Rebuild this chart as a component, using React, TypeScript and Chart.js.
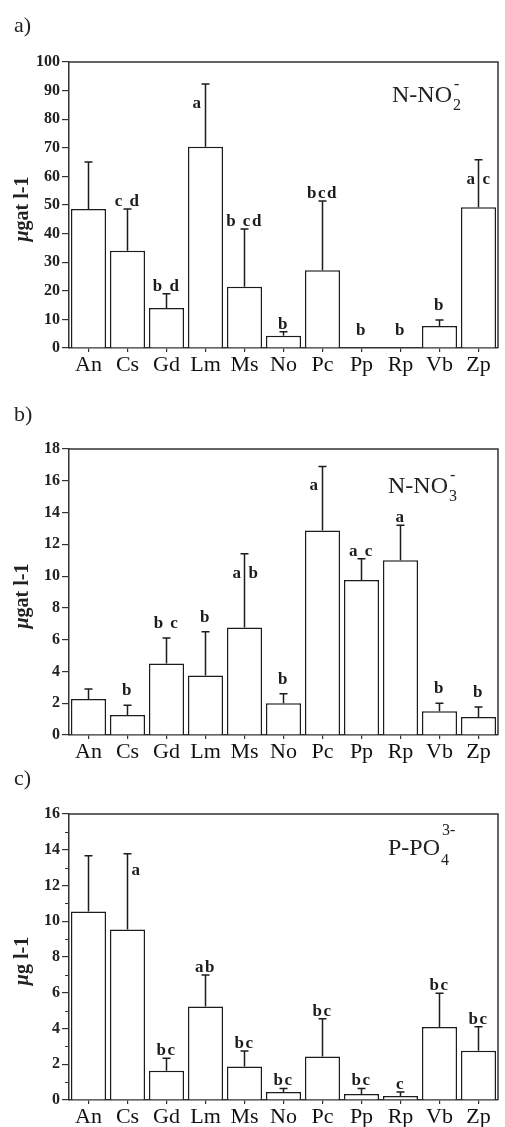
import React, { useEffect, useRef } from "react";
import { Chart, registerables } from "chart.js";

Chart.register(...registerables);

const categories = ["An", "Cs", "Gd", "Lm", "Ms", "No", "Pc", "Pp", "Rp", "Vb", "Zp"];

// a) N-NO2
const no2Means = [48.6, 34, 14, 70.4, 21.4, 4.3, 27.2, 0, 0, 7.7, 49.2];
const no2Upper = [65, 48.6, 19, 92.3, 41.6, 5.7, 51.4, 0, 0, 9.8, 65.8];
const no2Letters = ["", "c d", "b d", "a", "b cd", "b", "bcd", "b", "b", "b", "a c"];
const no2Ticks = [0, 10, 20, 30, 40, 50, 60, 70, 80, 90, 100];

// b) N-NO3
const no3Means = [2.27, 1.26, 4.5, 3.74, 6.76, 2.0, 12.87, 9.75, 11.0, 1.5, 1.13];
const no3Upper = [2.9, 1.87, 6.1, 6.5, 11.4, 2.6, 16.9, 11.1, 13.2, 2.0, 1.76];
const no3Letters = ["", "b", "b c", "b", "a b", "b", "a", "a c", "a", "b", "b"];
const no3Ticks = [0, 2, 4, 6, 8, 10, 12, 14, 16, 18];

// c) P-PO4
const po4Means = [10.55, 9.54, 1.64, 5.23, 1.88, 0.45, 2.44, 0.34, 0.22, 4.08, 2.76];
const po4Upper = [13.66, 13.77, 2.33, 7.0, 2.74, 0.65, 4.55, 0.65, 0.45, 5.97, 4.1];
const po4Letters = ["", "a", "bc", "ab", "bc", "bc", "bc", "bc", "c", "bc", "bc"];
const po4Ticks = [0, 2, 4, 6, 8, 10, 12, 14, 16];

// letter placement codes: t = just above cap, T = higher above cap, l = left of bar, r = right of bar, s = split around bar
const no2Place = ["t", "t", "t", "l", "t", "t", "t", "T", "T", "T", "s"];
const no3Place = ["t", "T", "T", "T", "s", "T", "l", "t", "t", "T", "T"];
const po4Place = ["t", "r", "t", "t", "t", "t", "t", "t", "t", "t", "t"];

const SERIF = "'Liberation Serif', 'DejaVu Serif', serif";
const INK = "#1c1c1c";

type Panel = {
  tag: string;
  means: number[];
  upper: number[];
  letters: string[];
  place: string[];
  ticks: number[];
  minor: boolean;
  unit: string;
  ionMain: string;
  ionSub: string;
  ionSup: string;
  ionX: number;
  ionBase: number;
  subDy: number;
  supDy: number;
  top: number;
  height: number;
  padTop: number;
  xAxisH: number;
  tagBase: number;
};

const panels: Panel[] = [
  {
    tag: "a)", means: no2Means, upper: no2Upper, letters: no2Letters, place: no2Place, ticks: no2Ticks,
    minor: false, unit: "gat l-1", ionMain: "N-NO", ionSub: "2", ionSup: "-", ionX: 392, ionBase: 102,
    subDy: 8, supDy: -13, top: 0, height: 380, padTop: 62, xAxisH: 32, tagBase: 32,
  },
  {
    tag: "b)", means: no3Means, upper: no3Upper, letters: no3Letters, place: no3Place, ticks: no3Ticks,
    minor: false, unit: "gat l-1", ionMain: "N-NO", ionSub: "3", ionSup: "-", ionX: 388, ionBase: 113,
    subDy: 8, supDy: -13, top: 380, height: 385, padTop: 69, xAxisH: 30, tagBase: 41,
  },
  {
    tag: "c)", means: po4Means, upper: po4Upper, letters: po4Letters, place: po4Place, ticks: po4Ticks,
    minor: true, unit: "g l-1", ionMain: "P-PO", ionSub: "4", ionSup: "3-", ionX: 388, ionBase: 90,
    subDy: 10, supDy: -20, top: 765, height: 362, padTop: 49, xAxisH: 27, tagBase: 20,
  },
];

function PanelChart({ p }: { p: Panel }) {
  const ref = useRef<HTMLCanvasElement | null>(null);
  useEffect(() => {
    const canvas = ref.current;
    if (!canvas) return;
    const max = p.ticks[p.ticks.length - 1];
    const step = p.ticks[1] - p.ticks[0];

    const decor = {
      id: "decor" + p.tag,
      afterDatasetsDraw(chart: any) {
        const ctx = chart.ctx as CanvasRenderingContext2D;
        const y = chart.scales.y;
        const meta = chart.getDatasetMeta(0);
        const ca = chart.chartArea;
        ctx.save();
        // frame (top + right)
        ctx.strokeStyle = "#333";
        ctx.lineWidth = 1.5;
        ctx.beginPath();
        ctx.moveTo(ca.left, ca.top);
        ctx.lineTo(ca.right, ca.top);
        ctx.lineTo(ca.right, ca.bottom);
        ctx.stroke();

        // minor ticks
        if (p.minor) {
          ctx.lineWidth = 1.2;
          ctx.beginPath();
          for (let v = step / 2; v < max; v += step) {
            const py = Math.round(y.getPixelForValue(v)) + 0.5;
            ctx.moveTo(ca.left - 4, py);
            ctx.lineTo(ca.left, py);
          }
          ctx.stroke();
        }

        // error bars
        ctx.strokeStyle = INK;
        ctx.lineWidth = 1.5;
        p.means.forEach((m, i) => {
          const up = p.upper[i];
          if (up <= m) return;
          const x = meta.data[i].x;
          const yb = y.getPixelForValue(m);
          const yt = y.getPixelForValue(up);
          ctx.beginPath();
          ctx.moveTo(x, yb);
          ctx.lineTo(x, yt);
          ctx.moveTo(x - 4, yt);
          ctx.lineTo(x + 4, yt);
          ctx.stroke();
        });

        // letters
        ctx.fillStyle = INK;
        ctx.font = `bold 17px ${SERIF}`;
        (ctx as any).letterSpacing = "1.5px";
        ctx.textBaseline = "alphabetic";
        p.letters.forEach((txt, i) => {
          if (!txt) return;
          const x = meta.data[i].x;
          const cap = y.getPixelForValue(Math.max(p.upper[i], p.means[i]));
          const mode = p.place[i];
          if (mode === "t" || mode === "T") {
            ctx.textAlign = "center";
            ctx.fillText(txt, x, cap - (mode === "t" ? 3 : p.means[i] === 0 ? 13 : 10));
          } else if (mode === "l") {
            ctx.textAlign = "right";
            ctx.fillText(txt, x - 3, cap + 24);
          } else if (mode === "r") {
            ctx.textAlign = "left";
            ctx.fillText(txt, x + 4, cap + 21);
          } else if (mode === "s") {
            const parts = txt.split(" ");
            ctx.textAlign = "right";
            ctx.fillText(parts[0], x - 2, cap + 24);
            ctx.textAlign = "left";
            ctx.fillText(parts.slice(1).join(""), x + 4, cap + 24);
          }
        });
        (ctx as any).letterSpacing = "0px";

        // ion label
        ctx.textAlign = "left";
        ctx.fillStyle = "#222";
        ctx.font = `24px ${SERIF}`;
        ctx.fillText(p.ionMain, p.ionX, p.ionBase);
        const w = ctx.measureText(p.ionMain).width;
        ctx.font = `16px ${SERIF}`;
        ctx.fillText(p.ionSub, p.ionX + w + 1, p.ionBase + p.subDy);
        ctx.fillText(p.ionSup, p.ionX + w + 2, p.ionBase + p.supDy);

        // panel tag
        ctx.font = `22px ${SERIF}`;
        ctx.fillStyle = "#222";
        ctx.fillText(p.tag, 14, p.tagBase);

        // y title
        ctx.translate(23, (ca.top + ca.bottom) / 2 + 4);
        ctx.rotate(-Math.PI / 2);
        ctx.textBaseline = "middle";
        ctx.font = `italic bold 20px ${SERIF}`;
        const mu = "\u03bc";
        const wMu = ctx.measureText(mu).width;
        ctx.font = `bold 20px ${SERIF}`;
        const wRest = ctx.measureText(p.unit).width;
        const total = wMu + wRest;
        ctx.textAlign = "left";
        ctx.font = `italic bold 20px ${SERIF}`;
        ctx.fillText(mu, -total / 2, 0);
        ctx.font = `bold 20px ${SERIF}`;
        ctx.fillText(p.unit, -total / 2 + wMu, 0);
        ctx.restore();
      },
    };

    const chart = new Chart(canvas, {
      type: "bar",
      data: {
        labels: categories,
        datasets: [
          {
            data: p.means,
            backgroundColor: "#ffffff",
            borderColor: INK,
            borderWidth: 1.5,
            barPercentage: 0.9,
            categoryPercentage: 1,
          },
        ],
      },
      options: {
        responsive: false,
        animation: false,
        devicePixelRatio: 1,
        layout: { padding: { top: p.padTop, right: 7, left: 0, bottom: 0 } },
        plugins: { legend: { display: false }, tooltip: { enabled: false }, title: { display: false } },
        scales: {
          x: {
            type: "category",
            offset: true,
            grid: { offset: false, drawOnChartArea: false, drawTicks: true, tickLength: 4, color: "#333", lineWidth: 1.2 },
            border: { display: true, color: "#333", width: 1.5 },
            ticks: {
              color: "#111",
              font: { family: SERIF, size: 22 },
              padding: 0,
              maxRotation: 0,
              autoSkip: false,
            },
            afterFit: (axis: any) => {
              axis.height = p.xAxisH;
            },
          },
          y: {
            min: 0,
            max,
            grid: { drawOnChartArea: false, drawTicks: true, tickLength: 7, color: "#333", lineWidth: 1.2 },
            border: { display: true, color: "#333", width: 1.5 },
            ticks: {
              stepSize: step,
              color: "#222",
              font: { family: SERIF, size: 16, weight: "bold" },
              padding: 2,
              callback: (v: any) => String(v),
            },
            afterFit: (axis: any) => {
              axis.width = 69;
            },
          },
        },
      },
      plugins: [decor],
    } as any);
    return () => chart.destroy();
  }, [p]);

  return (
    <canvas
      ref={ref}
      width={505}
      height={p.height}
      style={{ position: "absolute", left: 0, top: p.top, width: 505, height: p.height }}
    />
  );
}

export default function App() {
  return (
    <div style={{ position: "absolute", left: 0, top: 0, width: 505, height: 1127, background: "#fff", overflow: "hidden" }}>
      {panels.map((p) => (
        <PanelChart key={p.tag} p={p} />
      ))}
    </div>
  );
}
